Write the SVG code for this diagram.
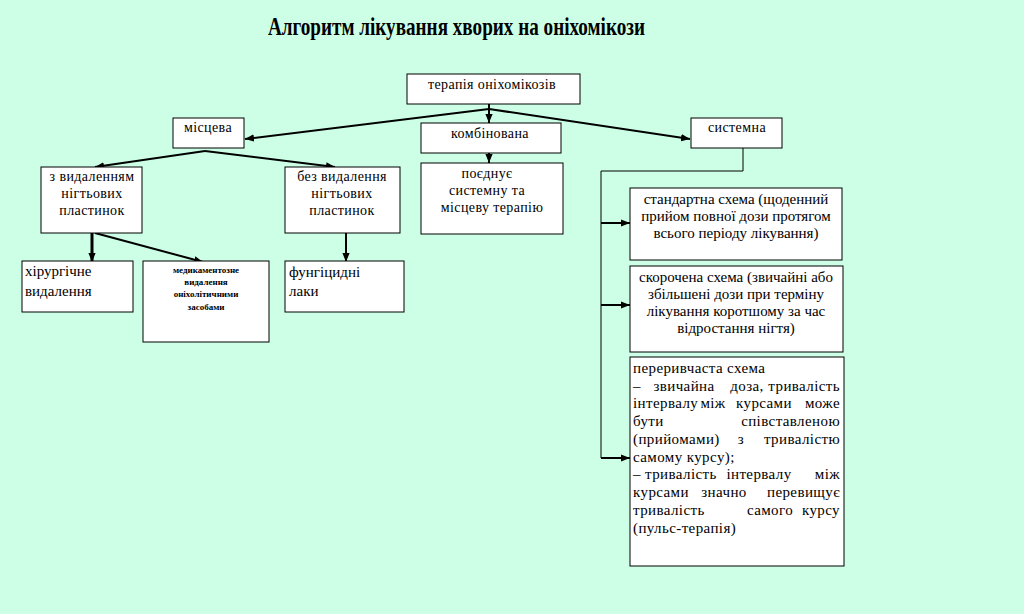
<svg xmlns="http://www.w3.org/2000/svg" width="1024" height="614" viewBox="0 0 1024 614">
<defs>
<marker id="ah2" viewBox="0 0 10 10" refX="10" refY="5" markerWidth="9" markerHeight="9" orient="auto" markerUnits="userSpaceOnUse"><path d="M0,1 L10,5 L0,9 z" fill="#000"/></marker>
</defs>
<style>
.bx{fill:#fff;stroke:#000;stroke-width:1}
.t{font-family:"Liberation Serif","DejaVu Serif","Times New Roman",serif;font-size:15px;fill:#000}
.s{font-size:14px;letter-spacing:0.4px}
.c{text-anchor:middle}
.m{text-anchor:middle}
.e{text-anchor:end}
.j{letter-spacing:0.4px}
.sm{font-size:9px;font-weight:bold;letter-spacing:0}
.ln{fill:none;stroke:#000;stroke-width:2}
.th{fill:none;stroke:#000;stroke-width:1}
</style>
<rect width="1024" height="614" fill="#ccffe6"/>
<text x="268" y="35" class="t" style="font-size:25px;font-weight:bold" textLength="377" lengthAdjust="spacingAndGlyphs">Алгоритм лікування хворих на оніхомікози</text>

<g id="connectors">
<line class="ln" x1="489" y1="109" x2="245" y2="139" marker-end="url(#ah2)"/>
<line class="ln" x1="489" y1="109" x2="690" y2="139" marker-end="url(#ah2)"/>
<line class="ln" x1="489" y1="104" x2="489" y2="123" marker-end="url(#ah2)"/>
<line class="ln" x1="489" y1="153" x2="489" y2="163" marker-end="url(#ah2)"/>
<line class="ln" x1="205" y1="151" x2="95" y2="167" marker-end="url(#ah2)"/>
<line class="ln" x1="205" y1="151" x2="335" y2="167" marker-end="url(#ah2)"/>
<line class="ln" x1="92" y1="233" x2="92" y2="262" style="stroke-width:3" marker-end="url(#ah2)"/>
<line class="ln" x1="95" y1="233" x2="203" y2="262" marker-end="url(#ah2)"/>
<line class="ln" x1="346" y1="233" x2="346" y2="262" marker-end="url(#ah2)"/>
<polyline class="th" points="743,148 743,171 601,171 601,458"/>
<line class="ln" x1="601" y1="223" x2="630" y2="223" marker-end="url(#ah2)"/>
<line class="ln" x1="601" y1="305" x2="630" y2="305" marker-end="url(#ah2)"/>
<line class="ln" x1="601" y1="458" x2="630" y2="458" marker-end="url(#ah2)"/>
</g>

<g id="n-therapy"><rect class="bx" x="407" y="74" width="173" height="30"/><text class="t s c" x="492" y="89">терапія оніхомікозів</text></g>
<g id="n-local"><rect class="bx" x="173" y="118" width="71" height="30"/><text class="t s c" x="208" y="132">місцева</text></g>
<g id="n-comb"><rect class="bx" x="421" y="123" width="140" height="30"/><text class="t s c" x="490" y="138">комбінована</text></g>
<g id="n-system"><rect class="bx" x="691" y="118" width="91" height="30"/><text class="t s c" x="737" y="132">системна</text></g>
<g id="n-with"><rect class="bx" x="41" y="167" width="101" height="66"/><text class="t s c" x="92" y="181">з видаленням</text><text class="t s c" x="92" y="198">нігтьових</text><text class="t s c" x="92" y="215">пластинок</text></g>
<g id="n-without"><rect class="bx" x="285" y="167" width="115" height="66"/><text class="t s c" x="342" y="181">без видалення</text><text class="t s c" x="342" y="198">нігтьових</text><text class="t s c" x="342" y="215">пластинок</text></g>
<g id="n-combines"><rect class="bx" x="421" y="163" width="142" height="71"/><text class="t s c" x="487" y="178">поєднує</text><text class="t s c" x="487" y="195">системну та</text><text class="t s c" x="492" y="212">місцеву терапію</text></g>
<g id="n-surg"><rect class="bx" x="22" y="261" width="111" height="51"/><text class="t" x="25" y="276">хірургічне</text><text class="t" x="25" y="296">видалення</text></g>
<g id="n-med"><rect class="bx" x="143" y="261" width="126" height="81"/><text class="t sm c" x="206" y="273">медикаментозне</text><text class="t sm c" x="206" y="285">видалення</text><text class="t sm c" x="206" y="297">оніхолітичними</text><text class="t sm c" x="206" y="310">засобами</text></g>
<g id="n-lacq"><rect class="bx" x="285" y="261" width="119" height="51"/><text class="t" x="289" y="277">фунгіцидні</text><text class="t" x="289" y="296">лаки</text></g>
<g id="n-std"><rect class="bx" x="630" y="188" width="212" height="72"/><text class="t c" x="736" y="204">стандартна схема (щоденний</text><text class="t c" x="736" y="221">прийом повної дози протягом</text><text class="t c" x="736" y="238">всього періоду лікування)</text></g>
<g id="n-short"><rect class="bx" x="630" y="266" width="213" height="86"/><text class="t c" x="736" y="282">скорочена схема (звичайні або</text><text class="t c" x="736" y="299">збільшені дози при терміну</text><text class="t c" x="736" y="316">лікування коротшому за час</text><text class="t c" x="736" y="333">відростання нігтя)</text></g>
<g id="n-interm"><rect class="bx" x="630" y="357" width="214" height="209"/>
<text class="t j" x="633" y="373">переривчаста схема</text>
<text class="t j" y="391"><tspan x="633">–</tspan><tspan x="684" class="m">звичайна</tspan><tspan x="747" class="m">доза,</tspan><tspan x="840" class="e">тривалість</tspan></text>
<text class="t j" y="408"><tspan x="633">інтервалу</tspan><tspan x="713" class="m">між</tspan><tspan x="764" class="m">курсами</tspan><tspan x="840" class="e">може</tspan></text>
<text class="t j" y="426"><tspan x="633">бути</tspan><tspan x="840" class="e">співставленою</tspan></text>
<text class="t j" y="444"><tspan x="633">(прийомами)</tspan><tspan x="741" class="m">з</tspan><tspan x="840" class="e">тривалістю</tspan></text>
<text class="t j" x="633" y="462">самому курсу);</text>
<text class="t j" y="479"><tspan x="633">– тривалість</tspan><tspan x="759" class="m">інтервалу</tspan><tspan x="840" class="e">між</tspan></text>
<text class="t j" y="497"><tspan x="633">курсами</tspan><tspan x="724" class="m">значно</tspan><tspan x="840" class="e">перевищує</tspan></text>
<text class="t j" y="515"><tspan x="633">тривалість</tspan><tspan x="770" class="m">самого</tspan><tspan x="840" class="e">курсу</tspan></text>
<text class="t j" x="633" y="533">(пульс-терапія)</text>
</g>
</svg>
